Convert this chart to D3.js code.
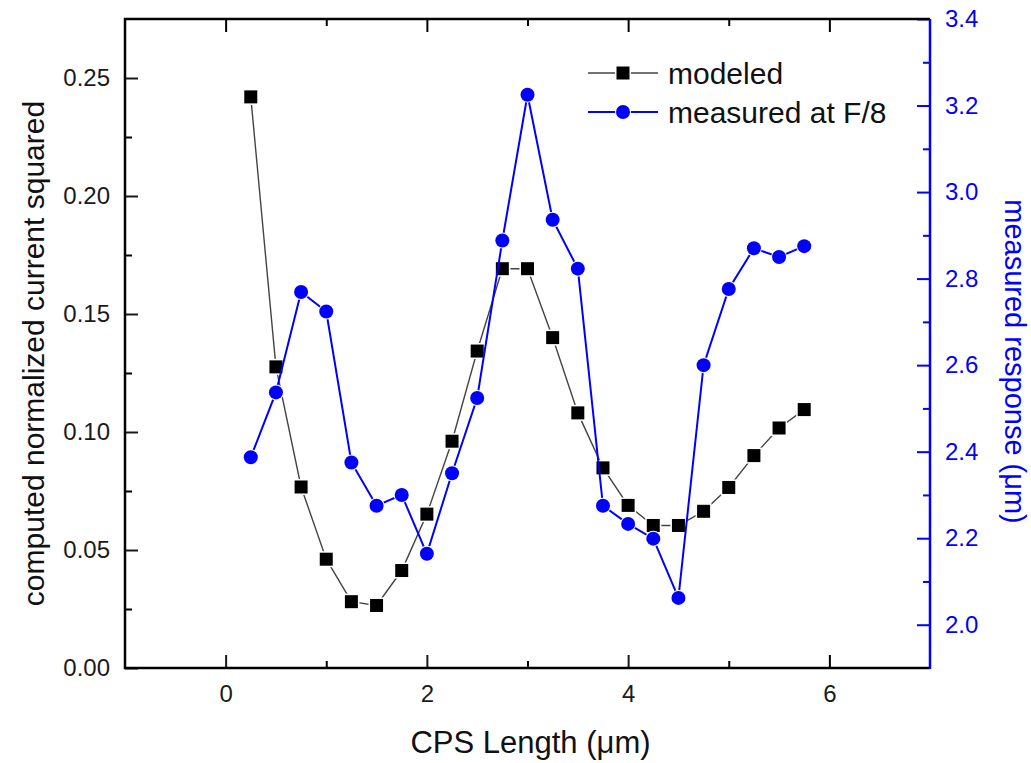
<!DOCTYPE html>
<html><head><meta charset="utf-8">
<script src="https://cdn.jsdelivr.net/npm/d3@7"></script>
<style>body{margin:0;background:#fff;} text{font-family:"Liberation Sans",Arial,Helvetica,sans-serif;}</style>
</head><body><svg id="c" width="1031" height="763"></svg>
<script>
const cpsLength = [0.25,0.5,0.75,1.0,1.25,1.5,1.75,2.0,2.25,2.5,2.75,3.0,3.25,3.5,3.75,4.0,4.25,4.5,4.75,5.0,5.25,5.5,5.75];
const modeled = [0.242,0.1276,0.0767,0.0461,0.0281,0.0265,0.0413,0.0652,0.0961,0.1343,0.1692,0.1692,0.140,0.1081,0.0848,0.0689,0.0604,0.0604,0.0664,0.0765,0.090,0.1017,0.1095];
const measured = [2.387,2.537,2.769,2.724,2.375,2.275,2.300,2.164,2.350,2.524,2.888,3.225,2.936,2.823,2.275,2.233,2.199,2.062,2.600,2.776,2.870,2.850,2.875];
const xTicks = [0,2,4,6];
const xMinor = [1,3,5];
const leftTicks = [0,0.05,0.10,0.15,0.20,0.25];
const leftMinor = [0.025,0.075,0.125,0.175,0.225];
const rightTicks = [2.0,2.2,2.4,2.6,2.8,3.0,3.2,3.4];
const rightMinor = [2.1,2.3,2.5,2.7,2.9,3.1,3.3];
const seriesNames = ["modeled","measured at F/8"];

const L=125,R=930,T=19,B=668;
const blue="#0000ff";
const svg=d3.select("#c");
const x=d3.scaleLinear().domain([-1,7]).range([L,R]);
const yL=d3.scaleLinear().domain([0,0.275]).range([B,T]);
const yR=d3.scaleLinear().domain([1.9,3.4]).range([B,T]);

function styleAxis(g,color,sw){
  g.select(".domain").remove();
  g.selectAll("line").attr("stroke",color).attr("stroke-width",sw);
  g.selectAll("text").attr("fill",color).style("font-size","24px");
}
// bottom
svg.append("g").attr("transform",`translate(0,${B})`)
  .call(d3.axisBottom(x).tickValues(xTicks).tickSize(-13).tickPadding(17).tickFormat(d3.format("d")))
  .call(g=>styleAxis(g,"#1a1a1a",2));
svg.append("g").attr("transform",`translate(0,${B})`)
  .call(d3.axisBottom(x).tickValues(xMinor).tickSize(-7).tickFormat(""))
  .call(g=>styleAxis(g,"#000",2));
// top
svg.append("g").attr("transform",`translate(0,${T})`)
  .call(d3.axisTop(x).tickValues(xTicks).tickSize(-13).tickFormat(""))
  .call(g=>styleAxis(g,"#000",2));
svg.append("g").attr("transform",`translate(0,${T})`)
  .call(d3.axisTop(x).tickValues(xMinor).tickSize(-7).tickFormat(""))
  .call(g=>styleAxis(g,"#000",2));
// left
svg.append("g").attr("transform",`translate(${L},0)`)
  .call(d3.axisLeft(yL).tickValues(leftTicks).tickSize(-13).tickPadding(15).tickFormat(d3.format(".2f")))
  .call(g=>styleAxis(g,"#1a1a1a",2));
svg.select("g:last-of-type").selectAll("line").attr("stroke","#000");
svg.append("g").attr("transform",`translate(${L},0)`)
  .call(d3.axisLeft(yL).tickValues(leftMinor).tickSize(-7).tickFormat(""))
  .call(g=>styleAxis(g,"#000",2));
// right
svg.append("g").attr("transform",`translate(${R},0)`)
  .call(d3.axisRight(yR).tickValues(rightTicks).tickSize(-13).tickPadding(15).tickFormat(d3.format(".1f")))
  .call(g=>styleAxis(g,blue,2));
svg.append("g").attr("transform",`translate(${R},0)`)
  .call(d3.axisRight(yR).tickValues(rightMinor).tickSize(-7).tickFormat(""))
  .call(g=>styleAxis(g,blue,2));
// frame
svg.append("path").attr("d",`M${R},${T}H${L}V${B}H${R}`).attr("fill","none").attr("stroke","#000").attr("stroke-width",2.5);
svg.append("line").attr("x1",R).attr("x2",R).attr("y1",T).attr("y2",B+1).attr("stroke",blue).attr("stroke-width",2.5);

// modeled series
const lineM=d3.line().x((d,i)=>x(cpsLength[i])).y(d=>yL(d));
svg.append("path").datum(modeled).attr("d",lineM).attr("fill","none").attr("stroke","#444").attr("stroke-width",1.4);
svg.append("g").selectAll("rect").data(modeled).join("rect")
  .attr("x",(d,i)=>x(cpsLength[i])-6.5).attr("y",d=>yL(d)-6.5).attr("width",13).attr("height",13)
  .attr("fill","#000").attr("stroke","#fff").attr("stroke-width",3).attr("paint-order","stroke");
// measured series
const lineR=d3.line().x((d,i)=>x(cpsLength[i])).y(d=>yR(d));
svg.append("path").datum(measured).attr("d",lineR).attr("fill","none").attr("stroke",blue).attr("stroke-width",2);
svg.append("g").selectAll("circle").data(measured).join("circle")
  .attr("cx",(d,i)=>x(cpsLength[i])).attr("cy",d=>yR(d)).attr("r",7)
  .attr("fill",blue).attr("stroke","#fff").attr("stroke-width",2).attr("paint-order","stroke");

// legend
const lg=svg.append("g");
[[73,"#444","rect"],[112,blue,"circle"]].forEach(([yy,col,shape],k)=>{
  lg.append("line").attr("x1",588).attr("x2",658).attr("y1",yy).attr("y2",yy).attr("stroke",col).attr("stroke-width",k?2:1.4);
  if(shape==="rect") lg.append("rect").attr("x",623-6.5).attr("y",yy-6.5).attr("width",13).attr("height",13).attr("fill","#000").attr("stroke","#fff").attr("stroke-width",3).attr("paint-order","stroke");
  else lg.append("circle").attr("cx",623).attr("cy",yy).attr("r",7).attr("fill",blue).attr("stroke","#fff").attr("stroke-width",2).attr("paint-order","stroke");
  lg.append("text").attr("x",668).attr("y",yy+11).text(seriesNames[k]).style("font-size","30px").attr("fill","#111");
});

// axis titles
svg.append("text").attr("transform",`translate(44,${(T+B)/2+10}) rotate(-90)`).attr("text-anchor","middle")
  .style("font-size","30px").attr("fill","#111").text("computed normalized current squared");
svg.append("text").attr("transform",`translate(1005,${(T+B)/2+18}) rotate(90)`).attr("text-anchor","middle")
  .style("font-size","29px").attr("fill",blue).text("measured response (μm)");
svg.append("text").attr("x",(L+R)/2+3).attr("y",753).attr("text-anchor","middle")
  .style("font-size","31px").attr("fill","#111").text("CPS Length (μm)");
</script></body></html>
